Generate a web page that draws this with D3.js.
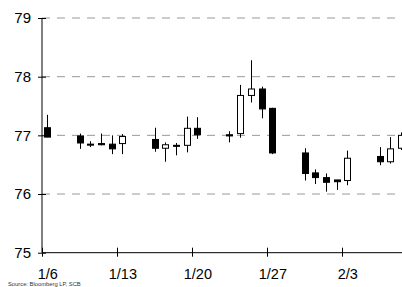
<!DOCTYPE html>
<html>
<head>
<meta charset="utf-8">
<script src="https://cdn.jsdelivr.net/npm/d3@7"></script>
<style>
  body { margin: 0; background: #fff; }
  svg { display: block; font-family: "Liberation Sans", Arial, sans-serif; }
  .grid line { stroke: #999; stroke-dasharray: 8 7; }
</style>
</head>
<body>
<svg id="chart" width="402" height="287"></svg>
<script>
// daily candles
const dates = ["2014-01-06", "2014-01-09", "2014-01-10", "2014-01-11", "2014-01-12", "2014-01-13",
    "2014-01-16", "2014-01-17", "2014-01-18", "2014-01-19", "2014-01-20",
    "2014-01-23", "2014-01-24", "2014-01-25", "2014-01-26", "2014-01-27",
    "2014-01-30", "2014-01-31", "2014-02-01", "2014-02-02", "2014-02-03",
    "2014-02-06", "2014-02-07", "2014-02-08"];
const opens  = [77.13, 76.99, 76.85, 76.86, 76.85, 76.86, 76.93, 76.78, 76.83, 76.83, 77.12, 77.01, 77.03, 77.68, 77.79, 77.46, 76.70, 76.36, 76.28, 76.24, 76.23, 76.64, 76.55, 76.78];
const highs  = [77.35, 77.03, 76.90, 77.03, 77.00, 77.02, 77.13, 76.88, 76.87, 77.32, 77.31, 77.07, 77.86, 78.28, 77.83, 77.47, 76.78, 76.42, 76.35, 76.24, 76.74, 76.80, 76.97, 77.05];
const lows   = [76.97, 76.77, 76.80, 76.83, 76.68, 76.68, 76.72, 76.55, 76.66, 76.71, 76.94, 76.88, 76.96, 77.56, 77.29, 76.68, 76.23, 76.17, 76.04, 76.07, 76.15, 76.49, 76.52, 76.75];
const closes = [76.97, 76.87, 76.85, 76.84, 76.77, 76.98, 76.78, 76.84, 76.83, 77.12, 77.01, 76.99, 77.68, 77.79, 77.45, 76.70, 76.35, 76.28, 76.20, 76.21, 76.61, 76.55, 76.77, 77.00];

const xTicks = ["2014-01-06", "2014-01-13", "2014-01-20", "2014-01-27", "2014-02-03"];
const yTicks = [75, 76, 77, 78, 79];

const parse = d3.timeParse("%Y-%m-%d");
const candles = dates.map((d, i) => ({
    date: parse(d), open: opens[i], high: highs[i], low: lows[i], close: closes[i]
}));

const svg = d3.select("#chart");
const plotLeft = 42, plotTop = 18, plotBottom = 252.7;
const dayW = 75 / 7;

const x = d3.scaleTime()
    .domain([parse("2014-01-06"), parse("2014-02-09")])
    .range([plotLeft, plotLeft + 34 * dayW]);
const y = d3.scaleLinear().domain([75, 79]).range([plotBottom, plotTop]);

// dashed grid
svg.append("g").attr("class", "grid")
    .selectAll("line")
    .data(yTicks.slice(1))
    .join("line")
    .attr("x1", plotLeft).attr("x2", 402)
    .attr("y1", d => y(d)).attr("y2", d => y(d));

// y axis
const yAxis = svg.append("g")
    .attr("transform", `translate(${plotLeft},0)`)
    .call(d3.axisLeft(y).tickValues(yTicks).tickFormat(d3.format("d"))
        .tickSize(4).tickPadding(7));
yAxis.select(".domain").remove();
yAxis.append("line").attr("y1", plotTop).attr("y2", plotBottom).attr("stroke", "#000");
yAxis.selectAll(".tick line").attr("x2", 4).attr("x1", -4);
yAxis.selectAll("text").attr("font-size", 15).attr("fill", "#000")
    .attr("font-family", "Liberation Sans, Arial, sans-serif");

// x axis, labels centred on the trading day
const xAxis = svg.append("g")
    .attr("transform", `translate(0,${plotBottom})`)
    .call(d3.axisBottom(x).tickValues(xTicks.map(parse))
        .tickFormat(d3.timeFormat("%-m/%-d")).tickSize(4).tickPadding(12));
xAxis.select(".domain").remove();
xAxis.append("line").attr("x1", plotLeft).attr("x2", 402).attr("stroke", "#000");
xAxis.selectAll(".tick line").attr("y1", -5).attr("y2", 4);
xAxis.selectAll("text").attr("x", dayW / 2).attr("font-size", 14.5).attr("fill", "#000")
    .attr("font-family", "Liberation Sans, Arial, sans-serif");

// candles
const bodyW = 6;
const g = svg.append("g");
const cx = d => Math.round(x(d3.timeHour.offset(d.date, 12))) + 0.5;

g.selectAll("line.wick")
    .data(candles)
    .join("line")
    .attr("class", "wick")
    .attr("x1", cx).attr("x2", cx)
    .attr("y1", d => y(d.high)).attr("y2", d => y(d.low))
    .attr("stroke", "#000");

g.selectAll("rect.body")
    .data(candles)
    .join("rect")
    .attr("class", "body")
    .attr("x", d => cx(d) - bodyW / 2)
    .attr("width", bodyW)
    .attr("y", d => y(Math.max(d.open, d.close)))
    .attr("height", d => Math.max(1, Math.abs(y(d.open) - y(d.close))))
    .attr("fill", d => d.close > d.open ? "#fff" : "#000")
    .attr("stroke", "#000")
    .attr("stroke-width", 1);

svg.append("text")
    .attr("x", 8).attr("y", 286)
    .attr("font-size", 5.8)
    .attr("fill", "#333")
    .text("Source: Bloomberg LP, SCB");
</script>
</body>
</html>
